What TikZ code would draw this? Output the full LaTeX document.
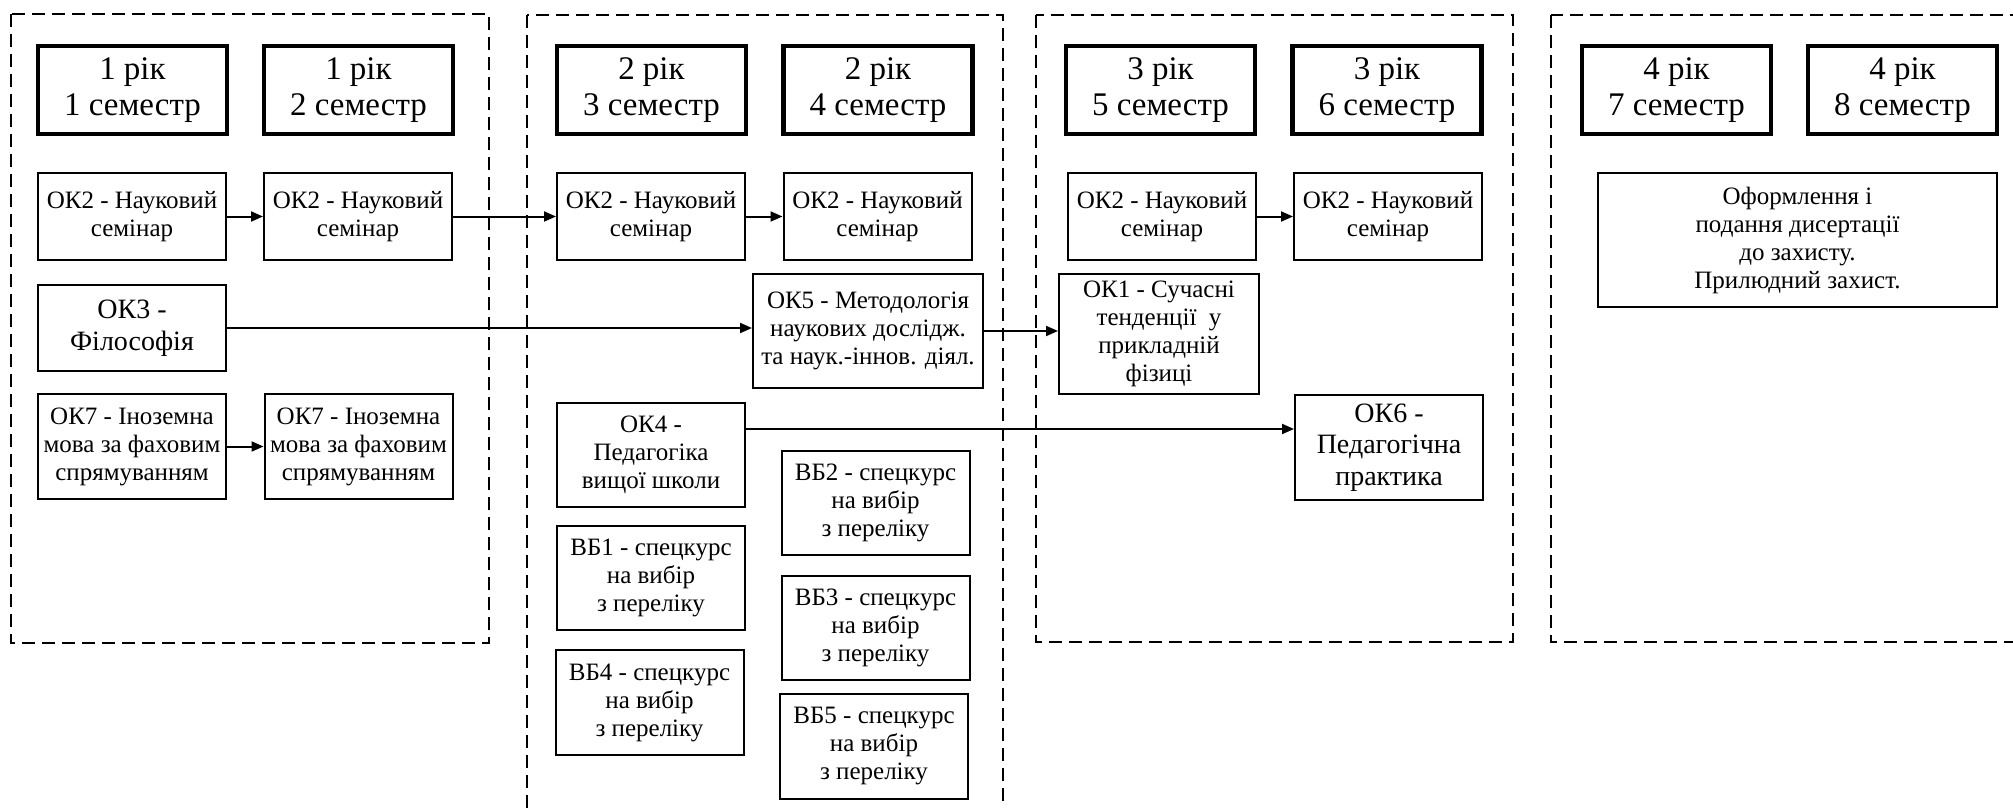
\documentclass[tikz,border=0pt]{standalone}
\usepackage{fontspec}
\setmainfont{LiberationSerif}[Extension=.ttf, UprightFont=*-Regular, BoldFont=*-Bold, ItalicFont=*-Italic]
\usetikzlibrary{arrows.meta}

\begin{document}
\begin{tikzpicture}[x=0.5pt, y=-0.5pt,
    yearframe/.style={line width=1.3pt, dash pattern=on 6.5pt off 3.5pt},
    semhead/.style={draw, line width=2.2pt, minimum width=94.5pt, minimum height=44pt,
      inner sep=0pt, align=center, font=\fontsize{16.5}{18}\selectfont},
    course/.style={draw, line width=1pt, minimum width=94pt, minimum height=43.5pt,
      inner sep=0pt, align=center, font=\fontsize{12.5}{14}\selectfont},
    bigcourse/.style={course, font=\fontsize{14}{15.8}\selectfont},
    link/.style={line width=1pt, -{Triangle[length=6pt,width=5pt]}}]
    %%%%% START %%%%%

    \useasboundingbox (0,0) rectangle (2013,808);
    \clip (0,0) rectangle (2013,808);

    % years
    \draw[yearframe] (11,14) rectangle (489,643);
    \draw[yearframe] (527,15) rectangle (1003,830);
    \draw[yearframe] (1036,15) rectangle (1513,642);
    \draw[yearframe] (1551,15) rectangle (2040,642);

    % semesters
    \node[semhead] (h1) at (132.5,90) {1 рік\\1 семестр};
    \node[semhead] (h2) at (358.5,90) {1 рік\\2 семестр};
    \node[semhead] (h3) at (651.5,90) {2 рік\\3 семестр};
    \node[semhead] (h4) at (878,90) {2 рік\\4 семестр};
    \node[semhead] (h5) at (1160.5,90) {3 рік\\5 семестр};
    \node[semhead] (h6) at (1387,90) {3 рік\\6 семестр};
    \node[semhead] (h7) at (1676.5,90) {4 рік\\7 семестр};
    \node[semhead] (h8) at (1902.5,90) {4 рік\\8 семестр};

    % seminar
    \node[course] (ok2a) at (132,216.5) {ОК2 - Науковий\\семінар};
    \node[course] (ok2b) at (358,216.5) {ОК2 - Науковий\\семінар};
    \node[course] (ok2c) at (651,216.5) {ОК2 - Науковий\\семінар};
    \node[course] (ok2d) at (877.5,216.5) {ОК2 - Науковий\\семінар};
    \node[course] (ok2e) at (1162,216.5) {ОК2 - Науковий\\семінар};
    \node[course] (ok2f) at (1388,216.5) {ОК2 - Науковий\\семінар};

    \node[bigcourse, minimum height=43pt] (ok3) at (132,328) {ОК3 -\\Філософія};
    \node[course, minimum height=52.5pt] (ok7a) at (132,446.5) {ОК7 - Іноземна\\мова за фаховим\\спрямуванням};
    \node[course, minimum height=52.5pt] (ok7b) at (358.5,446.5) {ОК7 - Іноземна\\мова за фаховим\\спрямуванням};

    \node[course, minimum width=115pt, minimum height=57pt] (ok5) at (868,331) {ОК5 - Методологія\\наукових дослідж.\\та наук.-іннов. діял.};
    \node[course, minimum height=52pt] (ok4) at (651,455) {ОК4 -\\Педагогіка\\вищої школи};

    % electives
    \node[course, minimum height=52pt] (vb1) at (651,578) {ВБ1 - спецкурс\\на вибір\\з переліку};
    \node[course, minimum height=52pt] (vb2) at (875.5,503) {ВБ2 - спецкурс\\на вибір\\з переліку};
    \node[course, minimum height=52pt] (vb3) at (875.5,628) {ВБ3 - спецкурс\\на вибір\\з переліку};
    \node[course, minimum height=52.5pt] (vb4) at (649.5,702.5) {ВБ4 - спецкурс\\на вибір\\з переліку};
    \node[course, minimum height=52.5pt] (vb5) at (874,746.5) {ВБ5 - спецкурс\\на вибір\\з переліку};

    \node[course, minimum width=100pt, minimum height=60pt] (ok1) at (1159,334) {ОК1 - Сучасні\\тенденції\ \ у\\прикладній\\фізиці};
    \node[bigcourse, minimum height=52.5pt] (ok6) at (1389,447.5) {ОК6 -\\Педагогічна\\практика};

    \node[course, minimum width=199.5pt, minimum height=67pt] (thesis) at (1797.5,240) {Оформлення і\\подання дисертації\\до захисту.\\Прилюдний захист.};

    % links
    \draw[link] (ok2a) -- (ok2b);
    \draw[link] (ok2b) -- (ok2c);
    \draw[link] (ok2c) -- (ok2d);
    \draw[link] (ok2e) -- (ok2f);
    \draw[link] (ok7a) -- (ok7b);
    \draw[link] (ok3.east) -- (ok3.east -| ok5.west);
    \draw[link] (ok5.east) -- (ok5.east -| ok1.west);
    \draw[link] ([yshift=13pt]ok4.east) -- ([yshift=13pt]ok4.east -| ok6.west);

    %%%%% END %%%%%
\end{tikzpicture}
\end{document}
